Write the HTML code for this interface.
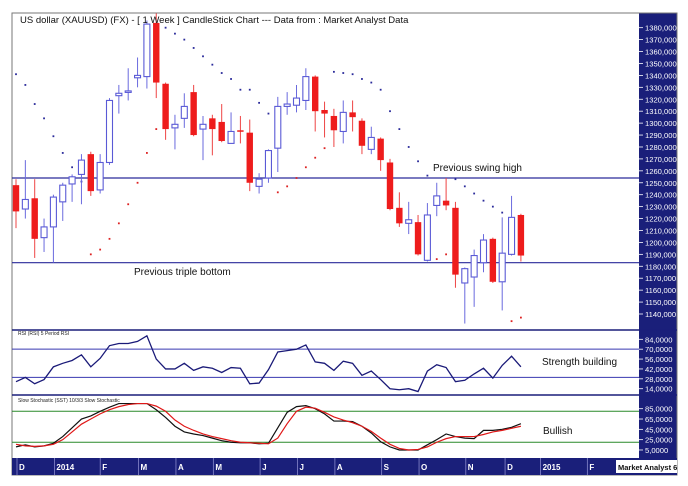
<!DOCTYPE html>
<html><head><meta charset="utf-8"><style>
html,body{margin:0;padding:0;background:#fff;}
svg{display:block;font-family:"Liberation Sans",Arial,sans-serif;}
</style></head><body>
<svg id="chart" width="688" height="486" viewBox="0 0 688 486">
  <rect x="0" y="0" width="688" height="486" fill="#fff"/>
  <g id="axisPanel">
    <rect x="639" y="13" width="38" height="445" fill="#1a1f7a"/>
  </g>
  <rect x="12" y="13" width="665" height="462" fill="none" stroke="#777" stroke-width="1"/>
  <line x1="12" y1="330" x2="677" y2="330" stroke="#1a1f7a" stroke-width="1.5"/>
  <line x1="12" y1="395" x2="677" y2="395" stroke="#1a1f7a" stroke-width="1.5"/>
  <g id="main"></g>
  <g id="rsi"></g>
  <g id="stoch"></g>
  <g id="time"></g>
  <text x="20" y="23" font-size="9.5" fill="#111">US dollar (XAUUSD) (FX) -  [ 1 Week ] CandleStick Chart --- Data from : Market Analyst Data</text>
  <text x="433" y="171" font-size="10" fill="#111">Previous swing high</text>
  <text x="134" y="275" font-size="10" fill="#111">Previous triple bottom</text>
  <text x="542" y="365" font-size="10" fill="#111">Strength building</text>
  <text x="543" y="434" font-size="10" fill="#111">Bullish</text>
  <text x="18" y="335" font-size="5" fill="#222">RSI (RSI) 5 Period RSI</text>
  <text x="18" y="402" font-size="5" fill="#222">Slow Stochastic (SST) 10/3/3 Slow Stochastic</text>
</svg>
<script>
const opens  = [1248,1228,1237,1204,1213,1234,1249,1257,1274,1244,1267,1323,1326,1338,1339,1384,1333,1296,1304,1326,1295,1304,1301,1283,1294,1292,1247,1254,1279,1314,1315,1319,1339,1311,1306,1293,1309,1302,1278,1287,1267,1229,1216,1217,1185,1231,1235,1229,1166,1171,1183,1203,1167,1190,1223];
const closes = [1226,1236,1203,1213,1238,1248,1255,1269,1243,1267,1319,1325,1327,1340,1383,1334,1295,1299,1314,1290,1299,1295,1285,1293,1293,1250,1253,1277,1314,1316,1321,1339,1310,1308,1294,1309,1305,1281,1288,1269,1228,1216,1219,1190,1223,1239,1231,1173,1178,1189,1202,1167,1191,1221,1189];
const highs  = [1253,1269,1253,1220,1240,1250,1257,1274,1276,1274,1321,1332,1346,1355,1386,1392,1334,1307,1325,1332,1306,1307,1316,1309,1306,1303,1258,1278,1322,1326,1332,1346,1340,1318,1312,1319,1319,1304,1297,1288,1270,1242,1234,1223,1233,1250,1254,1234,1179,1194,1207,1204,1221,1239,1224];
const lows   = [1212,1220,1187,1192,1183,1218,1234,1232,1239,1241,1265,1308,1319,1330,1329,1321,1286,1278,1296,1289,1269,1273,1284,1283,1283,1243,1241,1250,1259,1307,1309,1311,1293,1288,1280,1283,1293,1274,1274,1260,1227,1213,1207,1189,1184,1222,1227,1162,1132,1146,1175,1166,1143,1189,1184];
const sar    = [1341,1332,1316,1304,1289,1275,1263,1251,1190,1194,1203,1216,1232,1250,1275,1295,1380,1375,1370,1363,1356,1349,1342,1337,1328,1328,1317,1308,1242,1247,1254,1263,1271,1279,1343,1342,1341,1337,1334,1328,1310,1295,1280,1268,1256,1186,1190,1253,1247,1241,1235,1230,1225,1134,1137];
const sarAbove = [1,1,1,1,1,1,1,1,0,0,0,0,0,0,0,0,1,1,1,1,1,1,1,1,1,1,1,1,0,0,0,0,0,0,1,1,1,1,1,1,1,1,1,1,1,0,0,1,1,1,1,1,1,0,0];
const rsiValues = [24,30,21,27,45,50,54,62,45,57,75,78,78,81,89,56,42,42,50,40,45,43,37,44,43,21,22,41,66,68,70,76,52,50,40,53,50,33,39,27,14,12.5,14,10,39,48,44,24,26,35,43,29,47,60,45];
const stochK = [11,15,11,13,18,31,48,65,71,80,88,95,95,95,95,83,68,51,40,36,33,28,23,20,19,19,17,18,48,78,89,91,85,75,61,61,60,51,38,21,11,5,5,5,15,25,36,31,28,27,43,43,45,49,56];
const stochD = [16,13,12,13,16,25,40,55,65,75,83,89,93,95,95,90,80,63,51,43,36,31,27,23,20,19,18,17,28,56,80,88,86,78,69,63,58,51,41,28,16,8,5,6,11,20,27,31,31,31,35,40,43,47,51];
const priceTicks = [1380,1370,1360,1350,1340,1330,1320,1310,1300,1290,1280,1270,1260,1250,1240,1230,1220,1210,1200,1190,1180,1170,1160,1150,1140];
const rsiTicks = [84,70,56,42,28,14];
const stochTicks = [85,65,45,25,5];
const levelLines = [1254,1183];
const rsiLevels = [70,30];
const stochLevels = [80,20];
const monthLabels = ["D","2014","F","M","A","M","J","J","A","S","O","N","D","2015","F"];
const monthWeeks = [0,4,8.9,13,17,21,26,30,34,39,43,48,52.2,56,61];

const NS="http://www.w3.org/2000/svg";
function mk(tag,attrs,parent){const e=document.createElementNS(NS,tag);for(const k in attrs)e.setAttribute(k,attrs[k]);parent.appendChild(e);return e;}
const xOf = i => 16 + i*9.35;
const yP = p => 314 - (p-1140)*1.193;
const yR = v => 339.3 + (84-v)*0.706;
const yS = v => 408.7 + (85-v)*0.516;

const main=document.getElementById('main');
const axis=document.getElementById('axisPanel');
priceTicks.forEach(p=>{
  const y=yP(p);
  const t=mk('line',{x1:639,y1:y,x2:643,y2:y,stroke:'#fff','stroke-width':0.8},axis);
  
  
  const l=mk('text',{x:645,y:y+3,'font-size':7.6,fill:'#fff'},axis);
  l.textContent=p+',000';
  
  
});
rsiTicks.forEach(v=>{
  const y=yR(v);
  mk('line',{x1:639,y1:y,x2:643,y2:y,stroke:'#fff','stroke-width':0.8},axis);
  const l=mk('text',{x:645,y:y+3,'font-size':7.6,fill:'#fff'},axis);
  l.textContent=v+',0000';
  
  
});
stochTicks.forEach(v=>{
  const y=yS(v);
  mk('line',{x1:639,y1:y,x2:643,y2:y,stroke:'#fff','stroke-width':0.8},axis);
  const l=mk('text',{x:645,y:y+3,'font-size':7.6,fill:'#fff'},axis);
  l.textContent=v+',0000';
  
  
});
mk('line',{x1:639,y1:330,x2:677,y2:330,stroke:'#fff','stroke-width':1},axis);
mk('line',{x1:639,y1:395,x2:677,y2:395,stroke:'#fff','stroke-width':1},axis);

levelLines.forEach(p=>{
  const l=mk('line',{x1:12,y1:yP(p),x2:639,y2:yP(p),stroke:'#2a2a9a','stroke-width':1.2},main);
  
  
});
sar.forEach((s,i)=>{
  const c=mk('rect',{x:xOf(i)-0.9,y:yP(s)-0.9,width:1.8,height:1.8,fill:sarAbove[i]?'#2a2a9a':'#dd2222'},main);
  
  
});
opens.forEach((o,i)=>{
  const c=closes[i], up=c>=o, x=xOf(i);
  const col=up?'#5a5ad6':'#ee1c1c';
  const g=mk('g',{},main);
  
  
  mk('line',{x1:x,y1:yP(highs[i]),x2:x,y2:yP(lows[i]),stroke:up?'#6a6ade':'#ee4444','stroke-width':1},g);
  const top=yP(Math.max(o,c)), h=Math.max(1.5,yP(Math.min(o,c))-top);
  if(up) mk('rect',{x:x-3,y:top,width:6,height:h,fill:'#fff',stroke:col,'stroke-width':1.1},g);
  else mk('rect',{x:x-3.2,y:top,width:6.4,height:h,fill:col},g);
});

const rsi=document.getElementById('rsi');
rsiLevels.forEach(v=>{
  const l=mk('line',{x1:12,y1:yR(v),x2:639,y2:yR(v),stroke:'#3838b0','stroke-width':1},rsi);
  
  
});
const rl=mk('polyline',{points:rsiValues.map((v,i)=>xOf(i)+','+yR(v)).join(' '),fill:'none',stroke:'#1a1a78','stroke-width':1.3},rsi);



const st=document.getElementById('stoch');
stochLevels.forEach(v=>{
  const l=mk('line',{x1:12,y1:yS(v),x2:639,y2:yS(v),stroke:'#2a8a2a','stroke-width':1},st);
  
  
});
const kl=mk('polyline',{points:stochK.map((v,i)=>xOf(i)+','+yS(v)).join(' '),fill:'none',stroke:'#111','stroke-width':1.2},st);


const dl=mk('polyline',{points:stochD.map((v,i)=>xOf(i)+','+yS(v)).join(' '),fill:'none',stroke:'#e01818','stroke-width':1.2},st);



const tm=document.getElementById('time');
mk('rect',{x:12,y:458,width:665,height:17,fill:'#1a1f7a'},tm);
monthLabels.forEach((m,i)=>{
  const x=xOf(monthWeeks[i])+1;
  mk('line',{x1:x,y1:458,x2:x,y2:475,stroke:'#8888cc','stroke-width':0.8},tm);
  const t=mk('text',{x:x+2,y:470,'font-size':8,'font-weight':'bold',fill:'#fff'},tm);
  t.textContent=m;
  
  
});
const br=mk('rect',{x:616,y:460,width:61,height:13,fill:'#fff'},tm);


const bt=mk('text',{x:618,y:470,'font-size':7.5,'font-weight':'bold',fill:'#111'},tm);
bt.textContent='Market Analyst 6';


</script>
</body></html>
